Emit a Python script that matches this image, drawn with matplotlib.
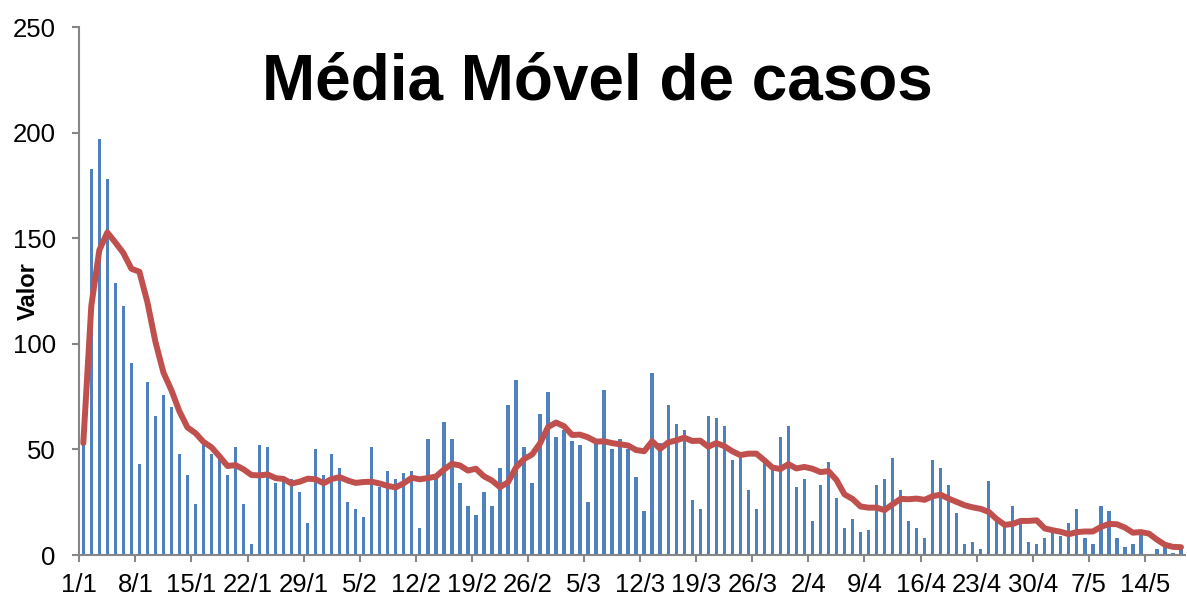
import matplotlib
matplotlib.use("Agg")
import matplotlib.pyplot as plt
import numpy as np
import pandas as pd

# daily cases from 1/1
cases = [
    53, 183, 197, 178, 129, 118, 91, 43, 82, 66,
    76, 70, 48, 38, 24, 53, 48, 46, 38, 51,
    24, 5, 52, 51, 34, 35, 36, 30, 15, 50,
    38, 48, 41, 25, 22, 18, 51, 32, 40, 36,
    39, 40, 13, 55, 37, 63, 55, 34, 23, 19,
    30, 23, 41, 71, 83, 51, 34, 67, 77, 56,
    59, 54, 52, 25, 53, 78, 50, 55, 50, 37,
    21, 86, 53, 71, 62, 59, 26, 22, 66, 65,
    61, 45, 46, 31, 22, 44, 41, 56, 61, 32,
    36, 16, 33, 44, 27, 13, 17, 11, 12, 33,
    36, 46, 31, 16, 13, 8, 45, 41, 33, 20,
    5, 6, 3, 35, 17, 14, 23, 15, 6, 5,
    8, 11, 9, 15, 22, 8, 5, 23, 21, 8,
    4, 5, 10, 0, 3, 4, 1, 3,
]
tick_labels = ["1/1", "8/1", "15/1", "22/1", "29/1", "5/2", "12/2", "19/2", "26/2", "5/3",
               "12/3", "19/3", "26/3", "2/4", "9/4", "16/4", "23/4", "30/4", "7/5", "14/5"]
y_ticks = [0, 50, 100, 150, 200, 250]

BAR_COLOR = "#4F81BD"
LINE_COLOR = "#C0504D"
AXIS_GRAY = "#868686"

plt.rcParams["font.family"] = ["Liberation Sans", "DejaVu Sans"]

series = pd.Series(cases, dtype=float)
moving = series.rolling(7, min_periods=1).mean()
x = np.arange(len(cases))

fig = plt.figure(figsize=(11.87, 6.01), dpi=100)
ax = fig.add_axes([0.0668, 0.0765, 0.9315, 0.8785])

ax.bar(x, cases, width=0.42, color=BAR_COLOR, zorder=2)
ax.plot(x, moving, color=LINE_COLOR, linewidth=4.3, solid_joinstyle="round",
        solid_capstyle="round", zorder=3)

ax.set_xlim(-0.5, len(cases) - 0.5)
ax.set_ylim(0, 250)
ax.set_yticks(y_ticks)
ax.set_xticks(np.arange(0, len(cases), 7)[:len(tick_labels)] - 0.5)
ax.set_xticklabels(tick_labels)

for side in ("top", "right"):
    ax.spines[side].set_visible(False)
for side in ("left", "bottom"):
    ax.spines[side].set_color(AXIS_GRAY)
    ax.spines[side].set_linewidth(1.5)
ax.tick_params(axis="both", direction="out", length=5, width=1.5, color=AXIS_GRAY,
               labelsize=18.5, labelcolor="black")
ax.tick_params(axis="y", pad=12)
ax.tick_params(axis="x", pad=8)

# y label sits close to the left edge, as in the reference
fig.text(28 / 1187, 1 - 291 / 601, "Valor", fontsize=17, fontweight="bold",
         rotation=90, ha="center", va="center")
fig.text(0.503, 0.862, "Média Móvel de casos", fontsize=46, fontweight="bold",
         ha="center", va="center")

fig.savefig("out.png", dpi=100)
